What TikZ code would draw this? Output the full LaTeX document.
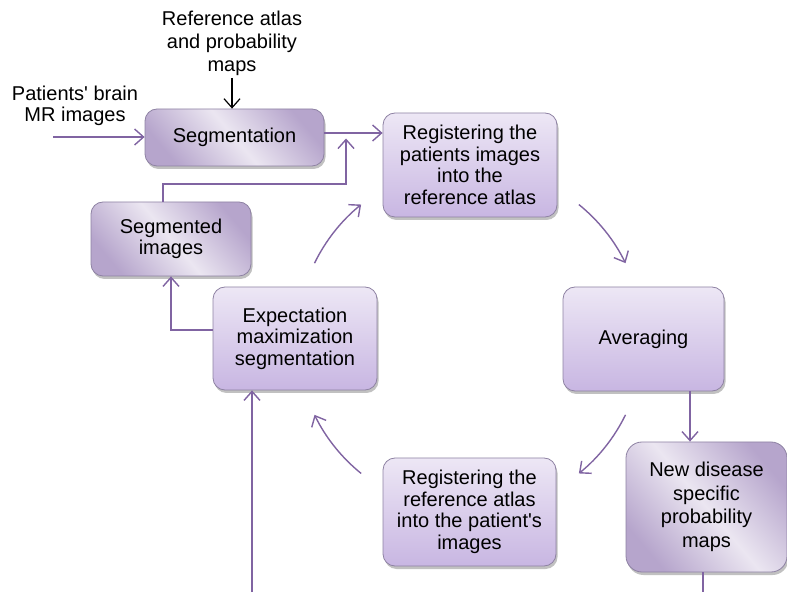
\documentclass[tikz,border=0pt]{standalone}
\usepackage{fontspec}
\setmainfont{Liberation Sans}
\usetikzlibrary{arrows.meta,shadows}
\definecolor{lineP}{HTML}{8064A2}
\definecolor{vtop}{HTML}{EDE7F5}
\definecolor{vbot}{HTML}{C8B6E2}
\definecolor{dark}{HTML}{B6A5CC}
\definecolor{light}{HTML}{EBE6F1}
\definecolor{edge}{HTML}{8E82A3}
\tikzset{
  boxbase/.style={rounded corners=12pt, draw=edge, line width=0.8pt, align=center,
    font=\fontsize{20}{21.5}\selectfont, inner sep=0pt,
    drop shadow={shadow xshift=1.5pt, shadow yshift=-3pt, opacity=0.35, fill=black!70}},
  vbox/.style={boxbase, top color=vtop, bottom color=vbot},
  dbox/.style={boxbase, top color=dark, bottom color=dark, middle color=light, shading angle=-50},
  plain/.style={align=center, font=\fontsize{20}{23}\selectfont, inner sep=0pt},
  arr/.style={draw=lineP, line width=1.4pt, -{Straight Barb[length=9pt,width=16pt,line width=1.4pt]}},
  barr/.style={draw=black, line width=1.2pt, -{Straight Barb[length=9pt,width=16pt,line width=1.2pt]}},
  pline/.style={draw=lineP, line width=1.4pt},
}
\begin{document}
\begin{tikzpicture}[x=1pt,y=1pt]
\useasboundingbox (0,0) rectangle (787,592);
% boxes
\node[dbox, minimum width=179pt, minimum height=57pt] (seg) at (234.5,454.5) {Segmentation};
\node[dbox, minimum width=160pt, minimum height=74pt] (segimg) at (171,353) {Segmented\\images};
\node[vbox, minimum width=174pt, minimum height=104pt] (regpat) at (470,427) {Registering the\\patients images\\into the\\reference atlas};
\node[vbox, minimum width=161pt, minimum height=104pt] (avg) at (643.5,253) {Averaging};
\node[vbox, minimum width=164pt, minimum height=103pt] (em) at (295,253.5) {Expectation\\maximization\\segmentation};
\node[vbox, minimum width=173pt, minimum height=108pt] (regref) at (469.5,80) {Registering the\\reference atlas\\into the patient\textquotesingle s\\images};
\node[dbox, rounded corners=16pt, minimum width=161pt, minimum height=130pt, font=\fontsize{20}{23.5}\selectfont] (newd) at (706.5,85) {New disease\\specific\\probability\\maps};
% free texts
\node[plain, font=\fontsize{20}{21}\selectfont] (pat) at (75,486) {Patients\textquotesingle\ brain\\MR images};
\node[plain] (ref) at (232,549) {Reference atlas\\and probability\\maps};
% connectors
\coordinate (patin) at (53,455);
\draw[arr] (patin) -- (patin -| seg.west);
\draw[barr] (ref.south |- 0,514) -- (ref.south |- seg.north);
\draw[arr] ([yshift=4.5pt]seg.east) -- ([yshift=4.5pt]seg.east -| regpat.west);
\coordinate (join) at (346,408);
\draw[arr] ([xshift=-8pt]segimg.north) |- (join) -- ([yshift=-1pt]join |- seg.east);
\draw[arr] ([yshift=8.5pt]em.west) -| (segimg.south);
\coordinate (emin) at (252,0);
\draw[arr] (emin) -- (emin |- em.south);
\coordinate (avgout) at (690,0);
\draw[arr] (avgout |- avg.south) -- (avgout |- newd.north);
\coordinate (ndout) at (703,0);
\draw[pline] (ndout |- newd.south) -- (ndout);
% cycle arcs
\coordinate (cyc) at (470,253);
\draw[arr] (cyc) ++(154:173) arc[start angle=154, end angle=129, radius=173];
\draw[arr] (cyc) ++(51:173) arc[start angle=51, end angle=26, radius=173];
\draw[arr] (cyc) ++(-26:173) arc[start angle=-26, end angle=-51, radius=173];
\draw[arr] (cyc) ++(231:173) arc[start angle=231, end angle=206, radius=173];
\end{tikzpicture}
\end{document}
